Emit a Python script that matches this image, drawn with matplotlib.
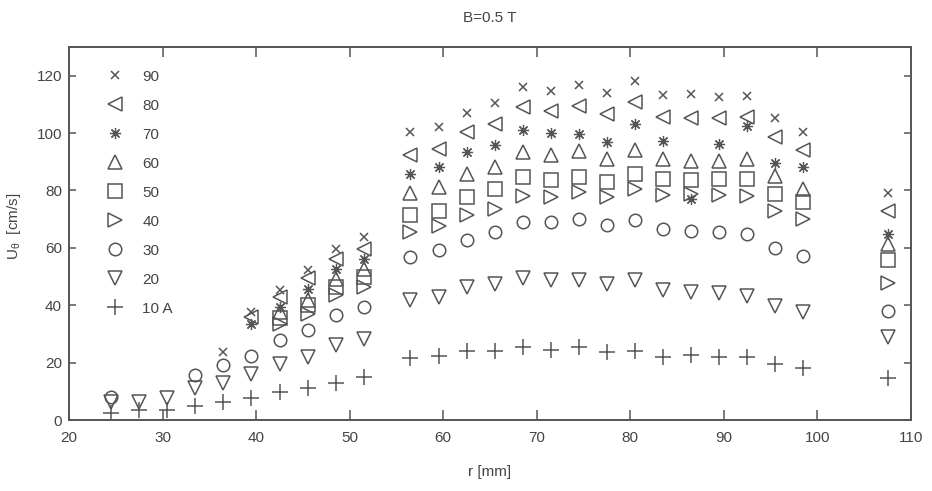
import numpy as np
import matplotlib
matplotlib.use("Agg")
import matplotlib.pyplot as plt

plt.rcParams['font.family'] = ['Liberation Sans', 'DejaVu Sans']
plt.rcParams['mathtext.fontset'] = 'custom'
plt.rcParams['mathtext.rm'] = 'Liberation Sans'
plt.rcParams['mathtext.it'] = 'Liberation Sans'

nan = np.nan
r_mm = [24.5, 27.5, 30.5, 33.5, 36.5, 39.5, 42.5, 45.5, 48.5, 51.5,
        56.5, 59.5, 62.5, 65.5, 68.5, 71.5, 74.5, 77.5, 80.5, 83.5,
        86.5, 89.5, 92.5, 95.5, 98.5, 107.5]

u_10A = [2.3, 3.5, 3.5, 5.0, 6.1, 7.5, 9.9, 11.0, 12.8, 15.1,
         21.7, 22.3, 24.0, 24.0, 25.3, 24.3, 25.3, 23.8, 24.1, 22.0,
         22.6, 22.0, 22.0, 19.5, 18.0, 14.5]
u_20A = [6.4, 6.4, 7.8, 11.0, 12.8, 16.0, 19.4, 22.0, 26.1, 28.4,
         41.7, 42.9, 46.4, 47.3, 49.6, 48.7, 48.9, 47.5, 48.7, 45.2,
         44.6, 44.1, 43.1, 39.8, 37.7, 28.8]
u_30A = [8.1, nan, nan, 15.7, 19.1, 22.3, 28.0, 31.3, 36.5, 39.4,
         56.8, 59.1, 62.8, 65.5, 69.0, 69.0, 70.1, 67.8, 69.8, 66.7,
         65.8, 65.5, 64.9, 60.1, 57.0, 38.0]
u_40A = [nan, nan, nan, nan, nan, nan, 33.6, 37.1, 43.5, 46.4,
         65.5, 67.6, 71.3, 73.6, 77.9, 77.7, 79.4, 77.7, 80.6, 78.3,
         78.8, 78.3, 77.9, 73.0, 70.1, 47.8]
u_50A = [nan, nan, nan, nan, nan, nan, 35.4, 40.0, 46.4, 49.9,
         71.3, 72.8, 77.7, 80.6, 84.6, 83.5, 84.6, 82.9, 85.8, 84.1,
         83.5, 84.1, 84.1, 78.8, 75.9, 55.7]
u_60A = [nan, nan, nan, nan, nan, nan, 37.7, 41.7, 49.3, 52.8,
         79.1, 81.2, 85.8, 88.3, 93.3, 92.2, 93.9, 91.0, 94.1, 91.0,
         90.4, 90.4, 91.0, 84.9, 80.6, 61.4]
u_70A = [nan, nan, nan, nan, nan, 33.5, 39.4, 45.8, 52.8, 56.2,
         85.8, 88.1, 93.3, 95.7, 100.9, 99.9, 99.7, 96.8, 103.2, 97.2,
         77.1, 96.2, 102.3, 89.5, 88.1, 64.7]
u_80A = [nan, nan, nan, nan, nan, 36.0, 42.9, 49.6, 56.2, 59.7,
         92.2, 94.5, 100.3, 103.2, 109.0, 107.8, 109.6, 106.7, 110.7, 105.5,
         105.3, 105.3, 105.7, 98.8, 94.1, 72.8]
u_90A = [nan, nan, nan, nan, 23.8, 37.7, 45.2, 52.2, 59.7, 63.8,
         100.3, 102.0, 107.0, 110.4, 116.2, 114.5, 116.9, 114.0, 118.0, 113.4,
         113.6, 112.7, 113.0, 105.3, 100.3, 79.1]

legend_labels = ['90', '80', '70', '60', '50', '40', '30', '20', '10 A']
series = [u_90A, u_80A, u_70A, u_60A, u_50A, u_40A, u_30A, u_20A, u_10A]
markers = ['x', '<', (8, 2, 0), '^', 's', '>', 'o', 'v', '+']
msizes = [5.5, 10, 8, 10, 9.5, 10, 9, 10, 11]
mews = [1.1, 1.1, 0.9, 1.1, 1.1, 1.1, 1.1, 1.1, 1.1]

col = '#555555'
fig = plt.figure(figsize=(9.32, 4.91), dpi=100)
ax = fig.add_axes([69/932, 1-420/491, (911-69)/932, (420-47)/491])

handles = []
for y, m, ms, mw, lab in zip(series, markers, msizes, mews, legend_labels):
    h, = ax.plot(r_mm, y, linestyle='none', marker=m, markersize=ms,
                 markerfacecolor='none', markeredgecolor=col,
                 markeredgewidth=mw, label=lab)
    handles.append(h)

ax.set_xlim(20, 110)
ax.set_ylim(0, 130)
ax.set_xticks(np.arange(20, 111, 10))
ax.set_yticks(np.arange(0, 121, 20))
ax.tick_params(axis='x', direction='in', length=7, width=1.1, color=col,
               top=True, pad=8, labelsize=11, labelcolor='#444444')
ax.tick_params(axis='y', direction='in', length=5, width=1.1, color=col,
               right=True, pad=5, labelsize=11, labelcolor='#444444')
for s in ax.spines.values():
    s.set_color(col)
    s.set_linewidth(1.4)

ax.set_title('B=0.5 T', fontsize=11, color='#444444', pad=18)
ax.set_xlabel('r [mm]', fontsize=11, color='#444444', labelpad=14)
ax.set_ylabel(r'U$_{\theta}$  [cm/s]', fontsize=11, color='#444444')
ax.yaxis.set_label_coords(-0.055, 0.52)

ax.legend(handles=handles, loc='upper left', bbox_to_anchor=(0.0455, 0.939),
          frameon=False, handlelength=1.0, handletextpad=1.3,
          labelspacing=0.98, borderpad=0, borderaxespad=0,
          fontsize=11, labelcolor='#444444', numpoints=1)

fig.savefig('out.png', dpi=100)
